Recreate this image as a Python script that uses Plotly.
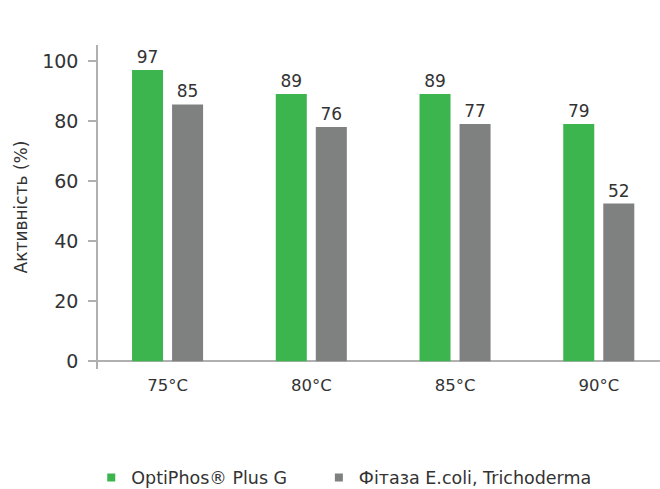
import plotly.graph_objects as go

categories = ["75°C", "80°C", "85°C", "90°C"]
optiphos_heights = [97, 89, 89, 79]
optiphos_labels = ["97", "89", "89", "79"]
phytase_heights = [85.5, 78, 79, 52.5]
phytase_labels = ["85", "76", "77", "52"]
series_names = ["OptiPhos® Plus G", "Фітаза E.coli, Trichoderma"]
y_ticks = [0, 20, 40, 60, 80, 100]

GREEN = "#3db54e"
GRAY = "#7f8181"
TEXT = "#333333"
AXIS = "#b0b0b0"
FONT = "'DejaVu Sans', sans-serif"

fig = go.Figure()
for heights, labels, name, color in [
    (optiphos_heights, optiphos_labels, series_names[0], GREEN),
    (phytase_heights, phytase_labels, series_names[1], GRAY),
]:
    fig.add_trace(go.Bar(
        x=categories, y=heights, name=name, showlegend=False, legendgroup=name,
        marker=dict(color=color, line=dict(width=0)),
        text=labels, textposition="outside", cliponaxis=False,
        textfont=dict(size=17, color=TEXT, family=FONT),
    ))
# legend-only entries with small square swatches, one legend each
for name, color, lg in [(series_names[0], GREEN, "legend"), (series_names[1], GRAY, "legend2")]:
    fig.add_trace(go.Scatter(
        x=[None], y=[None], mode="markers", name=name, legendgroup=name, legend=lg,
        marker=dict(symbol="square", size=8, color=color),
    ))

legend_common = dict(orientation="h", y=-0.335, yanchor="middle", xanchor="left",
                     xref="paper", font=dict(size=17.5, color=TEXT, family=FONT),
                     itemwidth=30, bgcolor="rgba(0,0,0,0)")

fig.update_layout(
    width=660, height=489,
    margin=dict(l=98, r=0, t=45, b=120, autoexpand=False),
    paper_bgcolor="white", plot_bgcolor="white",
    font=dict(family=FONT, color=TEXT),
    barmode="group", bargap=0.443, bargroupgap=0.225,
    showlegend=True,
    legend=dict(x=-0.012, **legend_common),
    legend2=dict(x=0.393, **legend_common),
    xaxis=dict(
        range=[-0.484, 3.426], showline=False, showgrid=False, ticks="",
        automargin=False,
        tickfont=dict(size=16.5, color=TEXT, family=FONT), ticklabelstandoff=4,
    ),
    yaxis=dict(
        range=[-2.6, 105.3], tickvals=y_ticks, showgrid=False, automargin=False,
        showline=True, linecolor=AXIS, linewidth=1.5,
        zeroline=True, zerolinecolor=AXIS, zerolinewidth=1.5,
        ticks="outside", ticklen=8, tickcolor=AXIS, tickwidth=1.5,
        tickfont=dict(size=19, color=TEXT, family=FONT), ticklabelstandoff=6,
        title=dict(text="Активність (%)", font=dict(size=17, color=TEXT, family=FONT), standoff=10),
    ),
)

fig.write_html("out.html", config={"displayModeBar": False},
               post_script="document.body.style.margin='0';document.body.style.overflow='hidden';")
